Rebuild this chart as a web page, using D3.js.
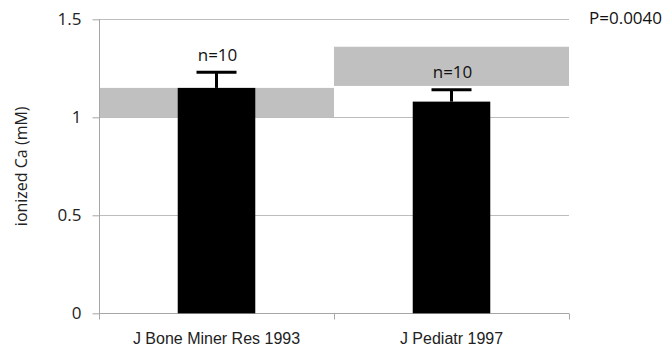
<!DOCTYPE html>
<html><head><meta charset="utf-8">
<script src="https://cdn.jsdelivr.net/npm/d3@7"></script>
<style>body{margin:0;background:#fff}</style>
</head><body>
<script>
const categories = ["J Bone Miner Res 1993", "J Pediatr 1997"];
const values = [1.15, 1.08];
const errors = [0.08, 0.06];
const nLabels = ["n=10", "n=10"];
const refLow = [1.0, 1.16];
const refHigh = [1.15, 1.36];
const yTicks = [0, 0.5, 1, 1.5];
const pLabel = "P=0.0040";

const W = 665, H = 350;
const m = {left: 99, right: 96, top: 19.3, bottom: 36.7};
const svg = d3.select("body").append("svg").attr("width", W).attr("height", H);

const x = d3.scaleBand().domain(categories).range([m.left, W - m.right]).padding(0);
const y = d3.scaleLinear().domain([0, 1.5]).range([H - m.bottom, m.top]);
const bw = x.bandwidth() * 0.33;
const calib = "'Open Sans', sans-serif";

// reference bands
svg.append("g").selectAll("rect").data(categories).join("rect")
  .attr("x", d => x(d)).attr("width", x.bandwidth())
  .attr("y", (d,i) => y(refHigh[i])).attr("height", (d,i) => y(refLow[i]) - y(refHigh[i]))
  .attr("fill", "#c0c0c0");

// gridlines
svg.append("g").selectAll("line").data(yTicks.filter(t => t > 0)).join("line")
  .attr("x1", m.left).attr("x2", W - m.right)
  .attr("y1", d => Math.round(y(d)) + 0.5).attr("y2", d => Math.round(y(d)) + 0.5)
  .attr("stroke", "#bdbdbd").attr("stroke-width", 1);

// y axis
const ya = svg.append("g").attr("transform", `translate(${m.left + 0.5},0)`)
  .call(d3.axisLeft(y).tickValues(yTicks).tickSize(7).tickPadding(11).tickFormat(d => d === 0 ? "0" : d3.format("")(d)));
ya.select(".domain").attr("stroke", "#a6a6a6").attr("d", `M0,${y(1.5)}V${y(0)}`);
ya.selectAll(".tick line").attr("stroke", "#a6a6a6");
ya.selectAll(".tick text").attr("font-family", calib).attr("font-size", 17).attr("fill", "#222");

// x axis
const xa = svg.append("g").attr("transform", `translate(0,${Math.round(y(0)) + 0.5})`);
xa.append("line").attr("x1", m.left).attr("x2", W - m.right).attr("stroke", "#a6a6a6");
const bounds = [m.left, m.left + x.bandwidth(), W - m.right];
xa.selectAll(".bt").data(bounds).join("line").attr("class", "bt")
  .attr("x1", d => Math.round(d) + 0.5).attr("x2", d => Math.round(d) + 0.5)
  .attr("y1", 0).attr("y2", 6).attr("stroke", "#a6a6a6");
xa.selectAll("text").data(categories).join("text")
  .attr("x", d => x(d) + x.bandwidth() / 2).attr("y", 30)
  .attr("text-anchor", "middle").attr("font-family", "'Liberation Sans', Arial, sans-serif")
  .attr("font-size", 16).attr("fill", "#222").text(d => d);

// bars
svg.append("g").selectAll("rect").data(categories).join("rect")
  .attr("x", d => x(d) + x.bandwidth() / 2 - bw / 2).attr("width", bw)
  .attr("y", (d,i) => y(values[i])).attr("height", (d,i) => y(0) - y(values[i]))
  .attr("fill", "#000");

// error bars
const eb = svg.append("g").attr("stroke", "#000").attr("stroke-width", 3);
categories.forEach((c, i) => {
  const cx = x(c) + x.bandwidth() / 2;
  eb.append("line").attr("x1", cx).attr("x2", cx).attr("y1", y(values[i])).attr("y2", y(values[i] + errors[i]));
  eb.append("line").attr("x1", cx - 20).attr("x2", cx + 20).attr("y1", y(values[i] + errors[i])).attr("y2", y(values[i] + errors[i]));
});

// n labels
svg.append("g").selectAll("text").data(categories).join("text")
  .attr("x", d => x(d) + x.bandwidth() / 2 + 1)
  .attr("y", (d,i) => y(values[i] + errors[i]) - 11.5)
  .attr("text-anchor", "middle").attr("font-family", calib).attr("font-size", 17).attr("fill", "#111")
  .text((d,i) => nLabels[i]);

// P label
svg.append("text").attr("x", 589).attr("y", 23.5).attr("font-family", calib).attr("font-size", 17)
  .attr("fill", "#111").text(pLabel);

// y title
svg.append("text").attr("transform", `translate(27,${(y(0) + y(1.5)) / 2}) rotate(-90)`)
  .attr("text-anchor", "middle").attr("font-family", calib).attr("font-size", 16).attr("fill", "#222")
  .text("ionized Ca (mM)");
</script>
</body></html>
